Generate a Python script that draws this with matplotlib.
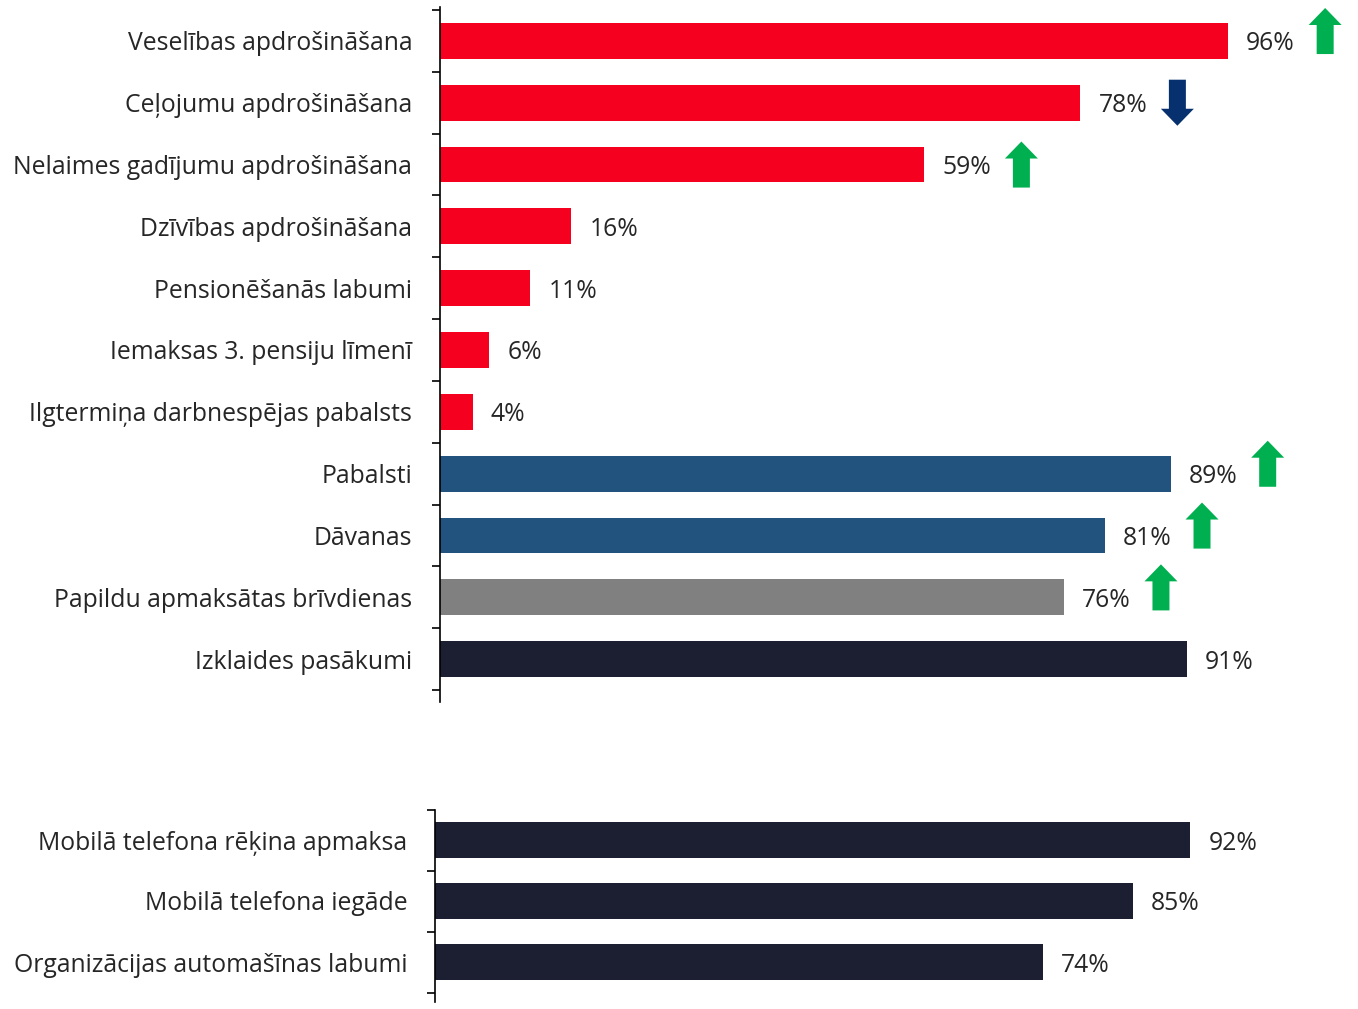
import matplotlib.pyplot as plt
from matplotlib.patches import FancyArrow

plt.rcParams["font.family"] = ["Open Sans", "DejaVu Sans"]

TOP_LABELS = [
    "Veselības apdrošināšana",
    "Ceļojumu apdrošināšana",
    "Nelaimes gadījumu apdrošināšana",
    "Dzīvības apdrošināšana",
    "Pensionēšanās labumi",
    "Iemaksas 3. pensiju līmenī",
    "Ilgtermiņa darbnespējas pabalsts",
    "Pabalsti",
    "Dāvanas",
    "Papildu apmaksātas brīvdienas",
    "Izklaides pasākumi",
]
TOP_VALUES = [96, 78, 59, 16, 11, 6, 4, 89, 81, 76, 91]
TOP_GROUPS = ["ins"] * 7 + ["benefit", "benefit", "leave", "event"]
TOP_TRENDS = ["up", "down", "up", None, None, None, None, "up", "up", "up", None]

BOTTOM_LABELS = [
    "Mobilā telefona rēķina apmaksa",
    "Mobilā telefona iegāde",
    "Organizācijas automašīnas labumi",
]
BOTTOM_VALUES = [92, 85, 74]

GROUP_COLORS = {
    "ins": "#F5001E",
    "benefit": "#22537F",
    "leave": "#808080",
    "event": "#1B1F31",
}
UP_COLOR = "#00B050"
DOWN_COLOR = "#06306E"
TEXT_COLOR = "#262626"
FONT_SIZE = 17.8

W, H = 1358, 1009
PX_PER_PCT = 8.21


def style_axis(ax, n, ymax, ymin):
    ax.set_ylim(ymax, ymin)
    for side in ("top", "right", "bottom"):
        ax.spines[side].set_visible(False)
    ax.spines["left"].set_linewidth(1.2)
    ax.set_xticks([])
    ax.set_yticks(range(n))
    ax.set_yticks([k - 0.5 for k in range(n + 1)], minor=True)
    ax.tick_params(axis="y", which="major", length=0, pad=20,
                   labelsize=FONT_SIZE, labelcolor=TEXT_COLOR)
    ax.tick_params(axis="y", which="minor", length=6, width=1.2, direction="out")


def draw_bars(ax, labels, values, colors):
    y = list(range(len(values)))
    ax.barh(y, values, height=0.58, color=colors)
    ax.set_yticklabels(labels)
    for yi, v in zip(y, values):
        ax.text(v + 18 / PX_PER_PCT, yi, f"{v}%", va="center_baseline", ha="left",
                fontsize=FONT_SIZE, color=TEXT_COLOR)


fig = plt.figure(figsize=(W / 100, H / 100), dpi=100)

# top block
ax1 = fig.add_axes([440 / W, 1 - 702 / H, (W - 440) / W, 695 / H])
ax1.set_xlim(0, (W - 440) / PX_PER_PCT)
style_axis(ax1, len(TOP_VALUES), 10.5 + 12 / 61.8, -0.5 - 3 / 61.8)
draw_bars(ax1, TOP_LABELS, TOP_VALUES, [GROUP_COLORS[g] for g in TOP_GROUPS])

arrow_len = 0.745
for yi, (v, trend) in enumerate(zip(TOP_VALUES, TOP_TRENDS)):
    if trend is None:
        continue
    x = v + 97 / PX_PER_PCT
    if trend == "up":
        lift = 0.0 if v == 59 else 0.16
        start, dy, color = yi + arrow_len / 2 - lift, -arrow_len, UP_COLOR
    else:
        start, dy, color = yi - arrow_len / 2, arrow_len, DOWN_COLOR
    ax1.add_patch(FancyArrow(x, start, 0, dy, width=17 / PX_PER_PCT,
                             head_width=33 / PX_PER_PCT, head_length=0.275,
                             length_includes_head=True, color=color, lw=0))

# bottom block
ax2 = fig.add_axes([435 / W, 1 - 1002 / H, (W - 435) / W, 192.5 / H])
ax2.set_xlim(0, (W - 435) / PX_PER_PCT)
style_axis(ax2, len(BOTTOM_VALUES), 2.5 + 9.5 / 61, -0.5)
draw_bars(ax2, BOTTOM_LABELS, BOTTOM_VALUES, [GROUP_COLORS["event"]] * 3)

fig.savefig("out.png", dpi=100)
